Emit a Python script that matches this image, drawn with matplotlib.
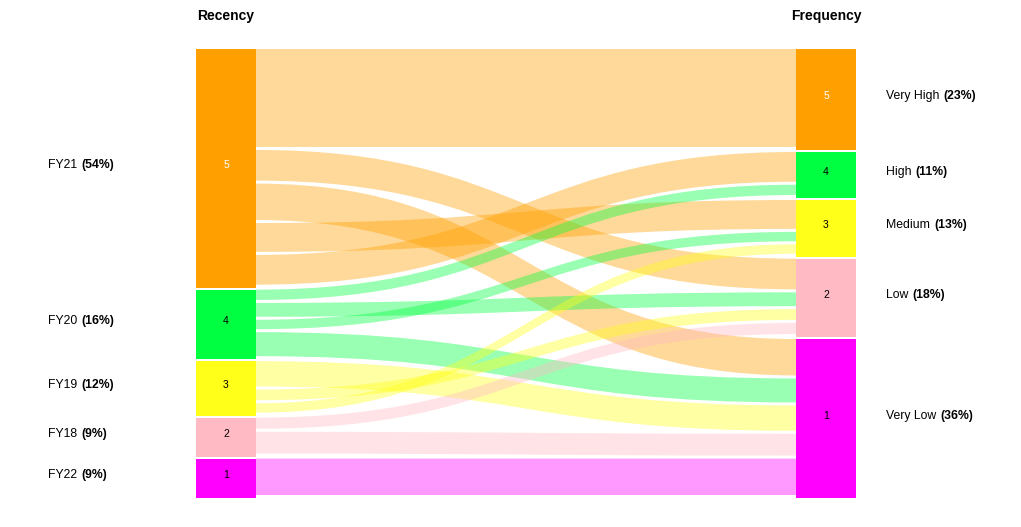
import matplotlib
matplotlib.use('Agg')
import matplotlib.pyplot as plt
from matplotlib.path import Path
from matplotlib.patches import PathPatch, Rectangle

plt.rcParams['font.family'] = ['Liberation Sans', 'DejaVu Sans']

# left (recency) and right (frequency) nodes, top to bottom
left_ids = ['5', '4', '3', '2', '1']
left_names = ['FY21', 'FY20', 'FY19', 'FY18', 'FY22']
left_pct = [54, 16, 12, 9, 9]
right_ids = ['5', '4', '3', '2', '1']
right_names = ['Very High', 'High', 'Medium', 'Low', 'Very Low']
right_pct = [23, 11, 13, 18, 36]
node_colors = {'5': '#ffa000', '4': '#00ff40', '3': '#ffff1a',
               '2': '#ffbac4', '1': '#ff00ff'}

# flows in the order they leave each left node
src = ['5', '5', '5', '5', '5', '4', '4', '4', '4', '3', '3', '3', '2', '2', '1']
dst = ['5', '2', '1', '3', '4', '4', '2', '3', '1', '1', '2', '3', '2', '1', '1']
val = [22.8, 7.6, 8.9, 7.2, 7.4, 3.0, 3.8, 2.8, 6.1, 6.4, 3.1, 2.8, 3.2, 5.6, 8.9]

top, bottom = 49, 498
node_gap = 2
link_gap = 3
xl, xr, w = 196, 796, 60
k = (bottom - top - node_gap * (len(left_ids) - 1)) / sum(val)

fig = plt.figure(figsize=(10.21, 5.27), dpi=100)
ax = fig.add_axes([0, 0, 1, 1])
ax.set_xlim(0, 1021)
ax.set_ylim(527, 0)
ax.axis('off')


def layout(ids, key):
    pos = {}
    y = top
    for n in ids:
        h = sum(v for s, v in zip(key, val) if s == n) * k
        pos[n] = (y, h)
        y += h + node_gap
    return pos


lpos = layout(left_ids, src)
rpos = layout(right_ids, dst)

# left offsets in list order, right offsets ordered by source node
lcur = {n: lpos[n][0] for n in left_ids}
ly = []
for s, v in zip(src, val):
    ly.append(lcur[s])
    lcur[s] += v * k
rcur = {n: rpos[n][0] for n in right_ids}
ry = [0] * len(val)
order = sorted(range(len(val)), key=lambda i: (left_ids.index(src[i]), i))
for i in order:
    ry[i] = rcur[dst[i]]
    rcur[dst[i]] += val[i] * k

x0, x1 = xl + w, xr
xm = (x0 + x1) / 2
for i in range(len(val)):
    h = val[i] * k - link_gap
    a, b = ly[i], ry[i]
    verts = [(x0, a), (xm, a), (xm, b), (x1, b),
             (x1, b + h), (xm, b + h), (xm, a + h), (x0, a + h), (x0, a)]
    codes = [Path.MOVETO, Path.CURVE4, Path.CURVE4, Path.CURVE4,
             Path.LINETO, Path.CURVE4, Path.CURVE4, Path.CURVE4, Path.CLOSEPOLY]
    ax.add_patch(PathPatch(Path(verts, codes), facecolor=node_colors[src[i]],
                           edgecolor='none', alpha=0.4, zorder=1))


def label(x, y, name, pct):
    t = ax.text(x, y, name, fontsize=8.8, ha='left', va='baseline')
    ax.annotate('(%d%%)' % pct, xy=(1, 0), xycoords=t, xytext=(3, 0),
                textcoords='offset points', fontsize=8.8, fontweight='bold',
                ha='left', va='bottom')


for ids, pos, x, names, pcts, lx in [(left_ids, lpos, xl, left_names, left_pct, 48),
                                     (right_ids, rpos, xr, right_names, right_pct, 886)]:
    for n, name, p in zip(ids, names, pcts):
        y, h = pos[n]
        ax.add_patch(Rectangle((x, y), w, h, facecolor=node_colors[n],
                               edgecolor='none', zorder=2))
        ax.text(x + w / 2, y + h / 2, n, fontsize=7.5, ha='center', va='baseline',
                color='white' if n == '5' else 'black', zorder=3)
        label(lx, y + h / 2, name, p)

ax.text(xl + w / 2, 16, 'Recency', fontsize=10, fontweight='bold', ha='center', va='center')
ax.text(xr + w / 2, 16, 'Frequency', fontsize=10, fontweight='bold', ha='center', va='center')

fig.savefig('out.png', dpi=100)
